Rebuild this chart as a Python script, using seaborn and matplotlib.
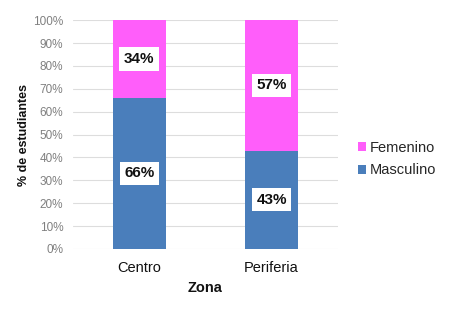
import matplotlib
matplotlib.use("Agg")
import matplotlib.pyplot as plt
import seaborn as sns
import pandas as pd
from matplotlib.patches import Patch

zonas = ["Centro", "Periferia"]
masculino = [66, 43]
femenino = [34, 57]
yticks = [0, 10, 20, 30, 40, 50, 60, 70, 80, 90, 100]

c_fem = "#FF5EFA"
c_mas = "#4A7EBB"

sns.set_theme(style="white")
plt.rcParams["font.family"] = ["Liberation Sans", "DejaVu Sans"]

df = pd.DataFrame({"Zona": zonas, "Masculino": masculino, "Femenino": femenino})
df["Total"] = df["Masculino"] + df["Femenino"]

fig = plt.figure(figsize=(4.54, 3.10), dpi=100)
ax = fig.add_axes([0.161, 0.197, 0.583, 0.738])

sns.barplot(data=df, x="Zona", y="Total", color=c_fem, width=0.4,
            saturation=1, ax=ax, linewidth=0, zorder=2)
sns.barplot(data=df, x="Zona", y="Masculino", color=c_mas, width=0.4,
            saturation=1, ax=ax, linewidth=0, zorder=3)

ax.set_xlim(-0.5, 1.5)
ax.set_ylim(0, 100)
ax.set_yticks(yticks)
ax.set_yticklabels([f"{v}%" for v in yticks], color="#808080", fontsize=8.5)
ax.tick_params(axis="x", labelsize=10.5, colors="#111111", length=0, pad=9)
ax.tick_params(axis="y", length=0, pad=7)
for s in ax.spines.values():
    s.set_visible(False)
ax.yaxis.grid(True, color="#dddddd", linewidth=0.8, zorder=0)
ax.set_axisbelow(True)

ax.set_xlabel("Zona", fontsize=10.5, fontweight="bold", color="#111111", labelpad=4)
ax.set_ylabel("% de estudiantes", fontsize=9, fontweight="bold", color="#111111", labelpad=2)

box = dict(boxstyle="square,pad=0.3", facecolor="white", edgecolor="none")
for i in range(len(zonas)):
    m = df["Masculino"][i]
    f = df["Femenino"][i]
    ax.text(i, m / 2, f"{m}%", ha="center", va="center", fontsize=11,
            fontweight="bold", color="#111111", bbox=box, zorder=5)
    ax.text(i, m + f / 2, f"{f}%", ha="center", va="center", fontsize=11,
            fontweight="bold", color="#111111", bbox=box, zorder=5)

handles = [Patch(facecolor=c_fem, edgecolor="none", label="Femenino"),
           Patch(facecolor=c_mas, edgecolor="none", label="Masculino")]
fig.legend(handles=handles, loc="center left", bbox_to_anchor=(0.775, 0.487),
           frameon=False, fontsize=10.5, handlelength=0.6, handleheight=0.6,
           handletextpad=0.25, labelspacing=0.6, borderaxespad=0)

fig.savefig("out.png", dpi=100)
